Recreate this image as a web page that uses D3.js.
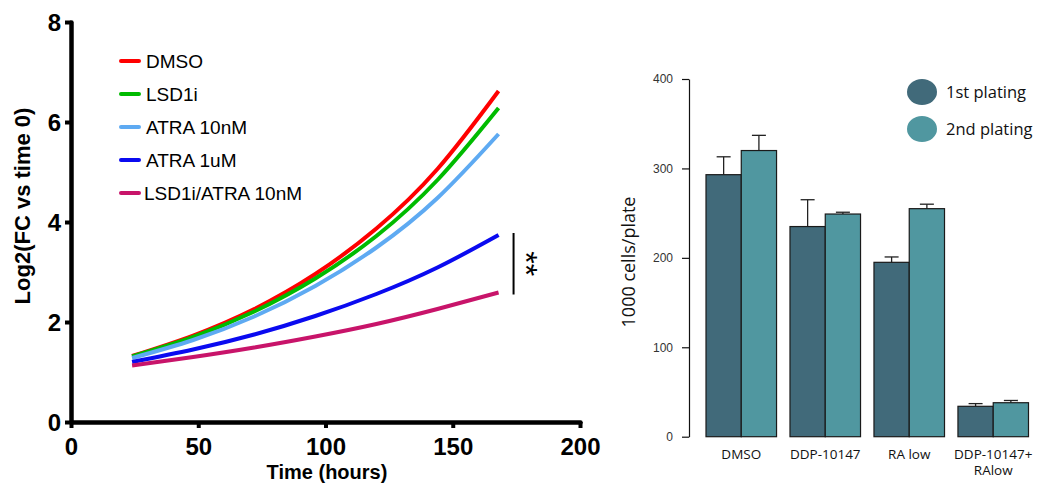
<!DOCTYPE html>
<html>
<head>
<meta charset="utf-8">
<script src="https://cdn.jsdelivr.net/npm/d3@7"></script>
<style>
  body { margin: 0; background: #fff; }
  svg { display: block; }
</style>
</head>
<body>
<svg id="chart" width="1037" height="490"></svg>
<script>
// growth curves, log2 fold change vs time 0
var timePoints = [24, 48, 72, 96, 120, 144, 168];
var growthSeries = ["DMSO", "LSD1i", "ATRA 10nM", "ATRA 1uM", "LSD1i/ATRA 10nM"];
var growthColors = ["#ff0000", "#00bb00", "#5eaaf2", "#0a0af0", "#c8146a"];
var dmsoValues    = [1.32, 1.73, 2.26, 2.96, 3.87, 5.06, 6.62];
var lsd1iValues   = [1.31, 1.70, 2.21, 2.87, 3.72, 4.84, 6.28];
var atra10Values  = [1.28, 1.64, 2.11, 2.72, 3.49, 4.48, 5.76];
var atra1uValues  = [1.20, 1.45, 1.75, 2.12, 2.56, 3.09, 3.74];
var comboValues   = [1.13, 1.30, 1.49, 1.71, 1.96, 2.26, 2.59];
var growthValues = [dmsoValues, lsd1iValues, atra10Values, atra1uValues, comboValues];
var timeTicks = [0, 50, 100, 150, 200];
var foldTicks = [0, 2, 4, 6, 8];

// colony counts per plating
var treatments = ["DMSO", "DDP-10147", "RA low", "DDP-10147+\nRAlow"];
var platings = ["1st plating", "2nd plating"];
var platingColors = ["#416a7a", "#5097a0"];
var firstPlating  = [293, 235, 195, 34];
var secondPlating = [320, 249, 255, 38];
var firstErr  = [20, 30, 6, 3];
var secondErr = [17, 2, 5, 2.5];
var countTicks = [0, 100, 200, 300, 400];

var svg = d3.select("#chart");

/* ---------- left: growth curves ---------- */

var x = d3.scaleLinear().domain([0, 200]).range([71, 580]);
var y = d3.scaleLinear().domain([0, 8]).range([422, 22]);

var left = svg.append("g").attr("class", "growth");

var line = d3.line()
    .x(function (d) { return x(d[0]); })
    .y(function (d) { return y(d[1]); })
    .curve(d3.curveNatural);

left.append("g")
    .attr("class", "curves")
    .selectAll("path")
    .data(growthValues)
    .enter()
    .append("path")
    .attr("fill", "none")
    .attr("stroke", function (d, i) { return growthColors[i]; })
    .attr("stroke-width", 4)
    .attr("d", function (d) {
        return line(d.map(function (v, i) { return [timePoints[i], v]; }));
    });

// axes
var xAxis = left.append("g")
    .attr("transform", "translate(0," + y(0) + ")")
    .call(d3.axisBottom(x).tickValues(timeTicks).tickSize(6).tickSizeOuter(0).tickPadding(10));

var yAxis = left.append("g")
    .attr("transform", "translate(" + x(0) + ",0)")
    .call(d3.axisLeft(y).tickValues(foldTicks).tickSize(6).tickSizeOuter(0).tickPadding(4));

[xAxis, yAxis].forEach(function (a) {
    a.select(".domain").attr("stroke", "#000").attr("stroke-width", 4.5).attr("stroke-linecap", "round");
    a.selectAll(".tick line").attr("stroke", "#000").attr("stroke-width", 4);
    a.selectAll(".tick text")
        .attr("fill", "#000")
        .style("font-family", "'Liberation Sans', Arial, sans-serif")
        .style("font-weight", "bold")
        .style("font-size", "24px");
});
yAxis.selectAll(".tick text").attr("dy", "0.36em");

left.append("text")
    .attr("transform", "translate(30,206) rotate(-90)")
    .attr("text-anchor", "middle")
    .style("font-family", "'Liberation Sans', Arial, sans-serif")
    .style("font-weight", "bold")
    .style("font-size", "22px")
    .text("Log2(FC vs time 0)");

left.append("text")
    .attr("x", 327)
    .attr("y", 479)
    .attr("text-anchor", "middle")
    .style("font-family", "'Liberation Sans', Arial, sans-serif")
    .style("font-weight", "bold")
    .style("font-size", "20px")
    .text("Time (hours)");

// legend
var legend = left.append("g").attr("class", "legend");
var legendRows = legend.selectAll("g")
    .data(growthSeries)
    .enter()
    .append("g")
    .attr("transform", function (d, i) { return "translate(121," + (61 + i * 33) + ")"; });

legendRows.append("line")
    .attr("x1", 0).attr("x2", 18)
    .attr("stroke", function (d, i) { return growthColors[i]; })
    .attr("stroke-width", 4)
    .attr("stroke-linecap", "round");

legendRows.append("text")
    .attr("x", function (d, i) { return i === 4 ? 23 : 25; })
    .attr("dy", "0.35em")
    .style("font-family", "'Liberation Sans', Arial, sans-serif")
    .style("font-size", "19px")
    .text(function (d) { return d; });

// significance bracket between ATRA 1uM and the combination
var lastT = timePoints[timePoints.length - 1];
left.append("line")
    .attr("x1", x(lastT) + 15).attr("x2", x(lastT) + 15)
    .attr("y1", y(atra1uValues[6]) - 2)
    .attr("y2", y(comboValues[6]) + 2)
    .attr("stroke", "#000")
    .attr("stroke-width", 2);

left.append("text")
    .attr("transform", "translate(515," + ((y(atra1uValues[6]) + y(comboValues[6])) / 2) + ") rotate(90)")
    .attr("text-anchor", "middle")
    .style("font-family", "'Liberation Sans', Arial, sans-serif")
    .style("font-size", "32px")
    .text("**");

/* ---------- right: colony bars ---------- */

var right = svg.append("g").attr("class", "colonies");

var x0 = d3.scaleBand().domain(treatments).range([706, 1028.5]).paddingInner(0.16);
var x1 = d3.scaleBand().domain(platings).range([0, x0.bandwidth()]);
var yR = d3.scaleLinear().domain([0, 400]).range([436.7, 79]);

var rightFont = "'Open Sans', 'Noto Sans', sans-serif";

var yAxisR = right.append("g")
    .attr("transform", "translate(689,0)")
    .call(d3.axisLeft(yR).tickValues(countTicks).tickSize(7).tickSizeOuter(0).tickPadding(9));
yAxisR.select(".domain").attr("stroke", "#111").attr("stroke-width", 1.2);
yAxisR.selectAll(".tick line").attr("stroke", "#111").attr("stroke-width", 1.2);
yAxisR.selectAll(".tick text")
    .attr("fill", "#333")
    .style("font-family", "'Liberation Sans', Arial, sans-serif")
    .style("font-size", "12px");

right.append("text")
    .attr("transform", "translate(635,262) rotate(-90)")
    .attr("text-anchor", "middle")
    .style("font-family", rightFont)
    .style("font-size", "18px")
    .attr("fill", "#111")
    .text("1000 cells/plate");

var groups = right.selectAll("g.group")
    .data(treatments)
    .enter()
    .append("g")
    .attr("class", "group")
    .attr("transform", function (d) { return "translate(" + x0(d) + ",0)"; });

var barData = function (d, i) {
    return [
        { plating: platings[0], value: firstPlating[i], err: firstErr[i], color: platingColors[0] },
        { plating: platings[1], value: secondPlating[i], err: secondErr[i], color: platingColors[1] }
    ];
};

var bars = groups.selectAll("g.bar")
    .data(barData)
    .enter()
    .append("g")
    .attr("class", "bar");

// error bars first so the bar outline sits on top
bars.append("line")
    .attr("x1", function (d) { return x1(d.plating) + x1.bandwidth() / 2; })
    .attr("x2", function (d) { return x1(d.plating) + x1.bandwidth() / 2; })
    .attr("y1", function (d) { return yR(d.value); })
    .attr("y2", function (d) { return yR(d.value + d.err); })
    .attr("stroke", "#222")
    .attr("stroke-width", 1.3);

bars.append("line")
    .attr("x1", function (d) { return x1(d.plating) + x1.bandwidth() / 2 - 7; })
    .attr("x2", function (d) { return x1(d.plating) + x1.bandwidth() / 2 + 7; })
    .attr("y1", function (d) { return yR(d.value + d.err); })
    .attr("y2", function (d) { return yR(d.value + d.err); })
    .attr("stroke", "#222")
    .attr("stroke-width", 1.3);

bars.append("rect")
    .attr("x", function (d) { return x1(d.plating); })
    .attr("width", x1.bandwidth())
    .attr("y", function (d) { return yR(d.value); })
    .attr("height", function (d) { return yR(0) - yR(d.value); })
    .attr("fill", function (d) { return d.color; })
    .attr("stroke", "#1a1a1a")
    .attr("stroke-width", 1.2);

// category labels, split on newlines
var catLabels = groups.append("text")
    .attr("x", x0.bandwidth() / 2)
    .attr("y", 459)
    .attr("text-anchor", "middle")
    .attr("fill", "#111")
    .style("font-family", rightFont)
    .style("font-size", "13.5px");

catLabels.selectAll("tspan")
    .data(function (d) { return d.split("\n"); })
    .enter()
    .append("tspan")
    .attr("x", x0.bandwidth() / 2)
    .attr("dy", function (d, i) { return i === 0 ? 0 : "1.2em"; })
    .text(function (d) { return d; });

// legend
var legendR = right.selectAll("g.plating")
    .data(platings)
    .enter()
    .append("g")
    .attr("class", "plating")
    .attr("transform", function (d, i) { return "translate(922," + (92 + i * 37) + ")"; });

legendR.append("ellipse")
    .attr("rx", 15)
    .attr("ry", 13)
    .attr("fill", function (d, i) { return platingColors[i]; });

legendR.append("text")
    .attr("x", 24)
    .attr("dy", "0.35em")
    .attr("fill", "#111")
    .style("font-family", rightFont)
    .style("font-size", "16.5px")
    .text(function (d) { return d; });
</script>
</body>
</html>
